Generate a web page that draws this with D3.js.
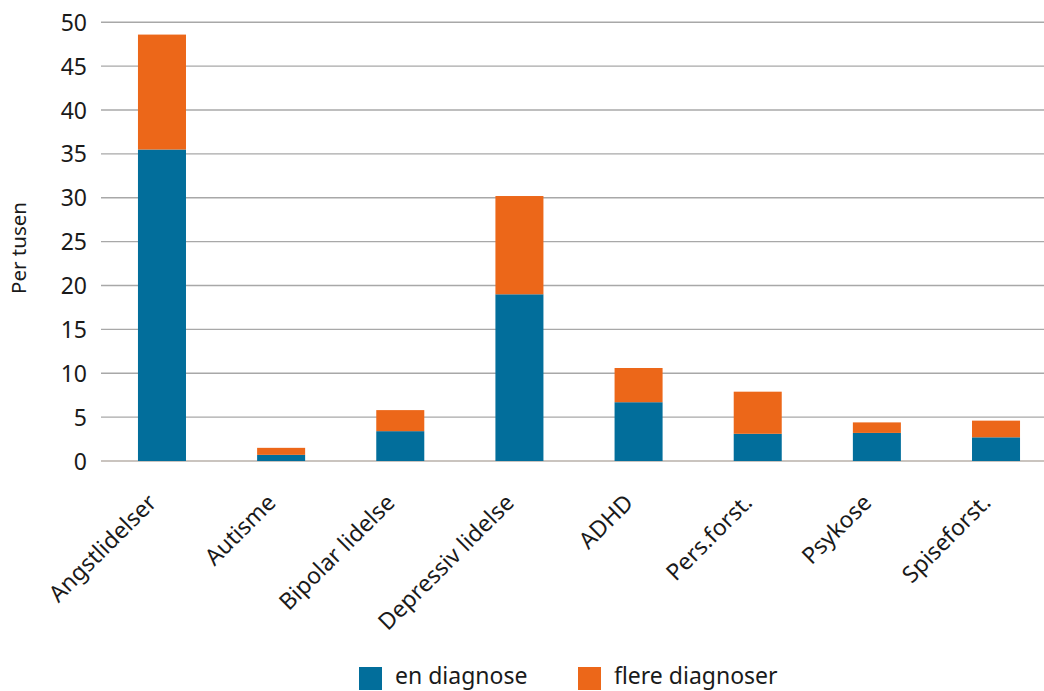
<!DOCTYPE html>
<html><head><meta charset="utf-8">
<script src="https://cdn.jsdelivr.net/npm/d3@7/dist/d3.min.js"></script>
<style>
html,body{margin:0;padding:0;background:#fff;}
svg{display:block;font-family:"Noto Sans","Open Sans",sans-serif;}
</style></head>
<body><svg id="c" width="1044" height="691"></svg>
<script>
const categories = ["Angstlidelser","Autisme","Bipolar lidelse","Depressiv lidelse","ADHD","Pers.forst.","Psykose","Spiseforst."];
const enDiagnose = [35.5, 0.7, 3.4, 19.0, 6.7, 3.1, 3.2, 2.7];
const flereTotal = [48.6, 1.5, 5.8, 30.2, 10.6, 7.9, 4.4, 4.6];
const flereDiagnoser = flereTotal.map((t,i)=>+(t-enDiagnose[i]).toFixed(1));
const yTicks = [0,5,10,15,20,25,30,35,40,45,50];
const seriesNames = ["en diagnose","flere diagnoser"];
const colors = ["#026e9b","#ec6719"];

const svg = d3.select("#c");
const W = 1044;
const x = d3.scaleBand().domain(categories).range([102.4, 1055.6]).paddingInner(0.597).paddingOuter(0.2985);
const y = d3.scaleLinear().domain([0,50]).range([461, 22.3]);

// gridlines
svg.append("g").selectAll("line").data(yTicks).join("line")
  .attr("x1",101).attr("x2",W)
  .attr("y1",d=>y(d)).attr("y2",d=>y(d))
  .attr("stroke",d=>d===0?"#b8b0aa":"#a8a8a8").attr("stroke-width",1.4);

// y tick labels
const yAxis = d3.axisLeft(y).tickValues(yTicks).tickSize(0).tickPadding(0);
const ya = svg.append("g").attr("transform","translate(87,0)").call(yAxis);
ya.select(".domain").remove();
ya.selectAll("text").attr("font-size",23).attr("fill","#1a1a1a").attr("font-family","Noto Sans").attr("dy","0.35em");

// stacked bars
const stackData = categories.map((c,i)=>({cat:c, en:enDiagnose[i], flere:flereDiagnoser[i]}));
const stack = d3.stack().keys(["en","flere"])(stackData);
svg.append("g").selectAll("g").data(stack).join("g")
  .attr("fill",(d,i)=>colors[i])
  .selectAll("rect").data(d=>d).join("rect")
  .attr("x",d=>x(d.data.cat)).attr("width",x.bandwidth())
  .attr("y",d=>y(d[1])).attr("height",d=>y(d[0])-y(d[1]));

// x labels
const xAxis = d3.axisBottom(x).tickSize(0).tickPadding(0);
const xa = svg.append("g").attr("transform","translate(0,461)").call(xAxis);
xa.select(".domain").remove();
xa.selectAll("text").attr("font-size",23).attr("fill","#1a1a1a").attr("font-family","Noto Sans")
  .attr("text-anchor","end").attr("dy",null).attr("y",0)
  .attr("transform","translate(-4,43) rotate(-45)");

// y title
svg.append("text").attr("transform","translate(26,248) rotate(-90)")
  .attr("text-anchor","middle").attr("font-size",20.5).attr("fill","#1a1a1a").text("Per tusen");

// legend
const leg = svg.append("g");
const legX = [359, 578];
seriesNames.forEach((n,i)=>{
  leg.append("rect").attr("x",legX[i]).attr("y",667).attr("width",23).attr("height",23).attr("fill",colors[i]);
  leg.append("text").attr("x",legX[i]+36).attr("y",683.5).attr("font-size",23).attr("fill","#1a1a1a").text(n);
});
</script></body></html>
